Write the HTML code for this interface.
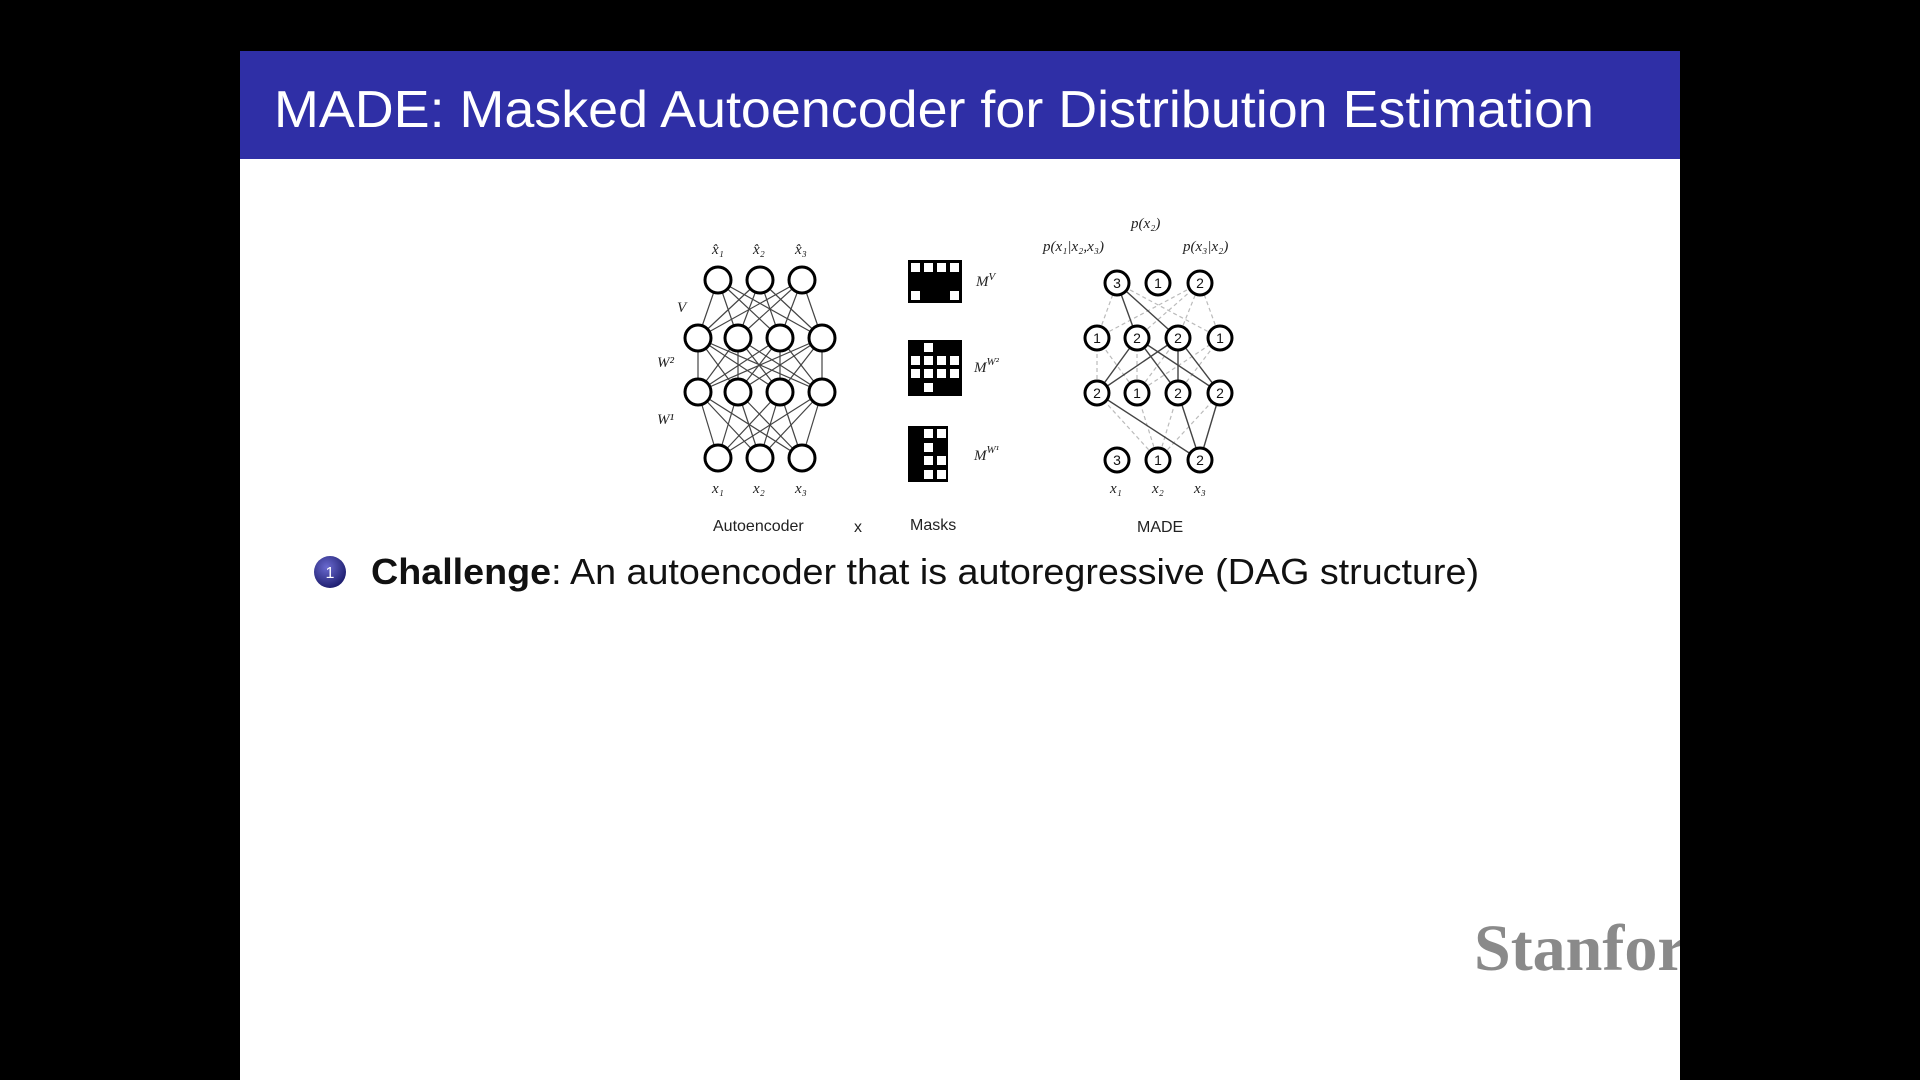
<!DOCTYPE html>
<html><head><meta charset="utf-8"><style>
html,body{margin:0;padding:0;background:#000;width:1920px;height:1080px;overflow:hidden}
svg{display:block}
text{font-family:"Liberation Sans",sans-serif}
.m{font-family:"Liberation Serif",serif;font-style:italic;font-size:15px;fill:#222}
</style></head><body>
<svg width="1920" height="1080" viewBox="0 0 1920 1080" xmlns="http://www.w3.org/2000/svg">
<rect x="240" y="51" width="1440" height="1029" fill="#fff"/>
<rect x="240" y="51" width="1440" height="108" fill="#2f2fa6"/>
<text x="274" y="127" font-size="52" fill="#fff" textLength="1320" lengthAdjust="spacingAndGlyphs">MADE: Masked Autoencoder for Distribution Estimation</text>

<g stroke="#444" stroke-width="1.2">
<line x1="718" y1="458" x2="698" y2="392"/><line x1="718" y1="458" x2="738" y2="392"/><line x1="718" y1="458" x2="780" y2="392"/><line x1="718" y1="458" x2="822" y2="392"/>
<line x1="760" y1="458" x2="698" y2="392"/><line x1="760" y1="458" x2="738" y2="392"/><line x1="760" y1="458" x2="780" y2="392"/><line x1="760" y1="458" x2="822" y2="392"/>
<line x1="802" y1="458" x2="698" y2="392"/><line x1="802" y1="458" x2="738" y2="392"/><line x1="802" y1="458" x2="780" y2="392"/><line x1="802" y1="458" x2="822" y2="392"/>
<line x1="698" y1="392" x2="698" y2="338"/><line x1="698" y1="392" x2="738" y2="338"/><line x1="698" y1="392" x2="780" y2="338"/><line x1="698" y1="392" x2="822" y2="338"/>
<line x1="738" y1="392" x2="698" y2="338"/><line x1="738" y1="392" x2="738" y2="338"/><line x1="738" y1="392" x2="780" y2="338"/><line x1="738" y1="392" x2="822" y2="338"/>
<line x1="780" y1="392" x2="698" y2="338"/><line x1="780" y1="392" x2="738" y2="338"/><line x1="780" y1="392" x2="780" y2="338"/><line x1="780" y1="392" x2="822" y2="338"/>
<line x1="822" y1="392" x2="698" y2="338"/><line x1="822" y1="392" x2="738" y2="338"/><line x1="822" y1="392" x2="780" y2="338"/><line x1="822" y1="392" x2="822" y2="338"/>
<line x1="698" y1="338" x2="718" y2="280"/><line x1="698" y1="338" x2="760" y2="280"/><line x1="698" y1="338" x2="802" y2="280"/>
<line x1="738" y1="338" x2="718" y2="280"/><line x1="738" y1="338" x2="760" y2="280"/><line x1="738" y1="338" x2="802" y2="280"/>
<line x1="780" y1="338" x2="718" y2="280"/><line x1="780" y1="338" x2="760" y2="280"/><line x1="780" y1="338" x2="802" y2="280"/>
<line x1="822" y1="338" x2="718" y2="280"/><line x1="822" y1="338" x2="760" y2="280"/><line x1="822" y1="338" x2="802" y2="280"/>
</g>
<g fill="#fff" stroke="#000" stroke-width="3">
<circle cx="718" cy="280" r="13"/><circle cx="760" cy="280" r="13"/><circle cx="802" cy="280" r="13"/>
<circle cx="698" cy="338" r="13"/><circle cx="738" cy="338" r="13"/><circle cx="780" cy="338" r="13"/><circle cx="822" cy="338" r="13"/>
<circle cx="698" cy="392" r="13"/><circle cx="738" cy="392" r="13"/><circle cx="780" cy="392" r="13"/><circle cx="822" cy="392" r="13"/>
<circle cx="718" cy="458" r="13"/><circle cx="760" cy="458" r="13"/><circle cx="802" cy="458" r="13"/>
</g>
<text class="m" x="712" y="254">x̂₁</text><text class="m" x="753" y="254">x̂₂</text><text class="m" x="795" y="254">x̂₃</text>
<text class="m" x="712" y="493">x₁</text><text class="m" x="753" y="493">x₂</text><text class="m" x="795" y="493">x₃</text>
<text class="m" x="677" y="312">V</text><text class="m" x="657" y="367">W²</text><text class="m" x="657" y="424">W¹</text>
<text x="713" y="531" font-size="16" fill="#222">Autoencoder</text>
<text x="854" y="532" font-size="16" fill="#222">x</text>
<text x="910" y="530" font-size="16" fill="#222">Masks</text>

<rect x="908" y="260" width="54" height="43" fill="#000"/>
<g fill="#fff">
<rect x="911" y="263" width="9" height="9"/><rect x="924" y="263" width="9" height="9"/><rect x="937" y="263" width="9" height="9"/><rect x="950" y="263" width="9" height="9"/>
<rect x="911" y="291" width="9" height="9"/><rect x="950" y="291" width="9" height="9"/>
</g>
<rect x="908" y="340" width="54" height="56" fill="#000"/>
<g fill="#fff">
<rect x="924" y="343" width="9" height="9"/>
<rect x="911" y="356" width="9" height="9"/><rect x="924" y="356" width="9" height="9"/><rect x="937" y="356" width="9" height="9"/><rect x="950" y="356" width="9" height="9"/>
<rect x="911" y="369" width="9" height="9"/><rect x="924" y="369" width="9" height="9"/><rect x="937" y="369" width="9" height="9"/><rect x="950" y="369" width="9" height="9"/>
<rect x="924" y="383" width="9" height="9"/>
</g>
<rect x="908" y="426" width="40" height="56" fill="#000"/>
<g fill="#fff">
<rect x="924" y="429" width="9" height="9"/><rect x="937" y="429" width="9" height="9"/>
<rect x="924" y="443" width="9" height="9"/>
<rect x="924" y="456" width="9" height="9"/><rect x="937" y="456" width="9" height="9"/>
<rect x="924" y="470" width="9" height="9"/><rect x="937" y="470" width="9" height="9"/>
</g>
<text class="m" x="976" y="286">M<tspan font-size="11" dy="-6">V</tspan></text>
<text class="m" x="974" y="372">M<tspan font-size="11" dy="-7">W²</tspan></text>
<text class="m" x="974" y="460">M<tspan font-size="11" dy="-7">W¹</tspan></text>

<g stroke="#bbb" stroke-width="1.2" stroke-dasharray="4,3">
<line x1="1158" y1="460" x2="1097" y2="393"/><line x1="1158" y1="460" x2="1137" y2="393"/><line x1="1158" y1="460" x2="1178" y2="393"/><line x1="1158" y1="460" x2="1220" y2="393"/>
<line x1="1137" y1="393" x2="1097" y2="338"/><line x1="1137" y1="393" x2="1137" y2="338"/><line x1="1137" y1="393" x2="1178" y2="338"/><line x1="1137" y1="393" x2="1220" y2="338"/>
<line x1="1097" y1="393" x2="1097" y2="338"/><line x1="1178" y1="393" x2="1220" y2="338"/><line x1="1220" y1="393" x2="1178" y2="338"/>
<line x1="1097" y1="338" x2="1117" y2="283"/><line x1="1097" y1="338" x2="1200" y2="283"/><line x1="1220" y1="338" x2="1117" y2="283"/><line x1="1220" y1="338" x2="1200" y2="283"/>
<line x1="1137" y1="338" x2="1200" y2="283"/><line x1="1178" y1="338" x2="1200" y2="283"/>
</g>
<g stroke="#444" stroke-width="1.4">
<line x1="1200" y1="460" x2="1097" y2="393"/><line x1="1200" y1="460" x2="1178" y2="393"/><line x1="1200" y1="460" x2="1220" y2="393"/>
<line x1="1097" y1="393" x2="1137" y2="338"/><line x1="1097" y1="393" x2="1178" y2="338"/>
<line x1="1178" y1="393" x2="1137" y2="338"/><line x1="1178" y1="393" x2="1178" y2="338"/>
<line x1="1220" y1="393" x2="1137" y2="338"/><line x1="1220" y1="393" x2="1178" y2="338"/>
<line x1="1137" y1="338" x2="1117" y2="283"/><line x1="1178" y1="338" x2="1117" y2="283"/>
</g>
<g fill="#fff" stroke="#000" stroke-width="3">
<circle cx="1117" cy="283" r="12"/><circle cx="1158" cy="283" r="12"/><circle cx="1200" cy="283" r="12"/>
<circle cx="1097" cy="338" r="12"/><circle cx="1137" cy="338" r="12"/><circle cx="1178" cy="338" r="12"/><circle cx="1220" cy="338" r="12"/>
<circle cx="1097" cy="393" r="12"/><circle cx="1137" cy="393" r="12"/><circle cx="1178" cy="393" r="12"/><circle cx="1220" cy="393" r="12"/>
<circle cx="1117" cy="460" r="12"/><circle cx="1158" cy="460" r="12"/><circle cx="1200" cy="460" r="12"/>
</g>
<g font-size="14" fill="#111" text-anchor="middle">
<text x="1117" y="288">3</text><text x="1158" y="288">1</text><text x="1200" y="288">2</text>
<text x="1097" y="343">1</text><text x="1137" y="343">2</text><text x="1178" y="343">2</text><text x="1220" y="343">1</text>
<text x="1097" y="398">2</text><text x="1137" y="398">1</text><text x="1178" y="398">2</text><text x="1220" y="398">2</text>
<text x="1117" y="465">3</text><text x="1158" y="465">1</text><text x="1200" y="465">2</text>
</g>
<text class="m" x="1131" y="228">p(x₂)</text>
<text class="m" x="1043" y="251">p(x₁|x₂,x₃)</text>
<text class="m" x="1183" y="251">p(x₃|x₂)</text>
<text class="m" x="1110" y="493">x₁</text><text class="m" x="1152" y="493">x₂</text><text class="m" x="1194" y="493">x₃</text>
<text x="1137" y="532" font-size="16" fill="#222">MADE</text>

<defs><radialGradient id="g" cx="0.4" cy="0.35" r="0.7"><stop offset="0" stop-color="#6a6ad0"/><stop offset="1" stop-color="#1a1a6a"/></radialGradient></defs>
<circle cx="330" cy="572" r="16" fill="url(#g)"/>
<text x="330" y="578" font-size="16" fill="#fff" text-anchor="middle">1</text>
<text x="371" y="584" font-size="36" fill="#111" textLength="1108" lengthAdjust="spacingAndGlyphs"><tspan font-weight="bold">Challenge</tspan>: An autoencoder that is autoregressive (DAG structure)</text>

<text x="1474" y="970" style="font-family:'Liberation Serif',serif;font-weight:bold" font-size="66" fill="#8a8a8a">Stanford</text>
<rect x="1680" y="880" width="240" height="120" fill="#000"/>
</svg>
</body></html>
